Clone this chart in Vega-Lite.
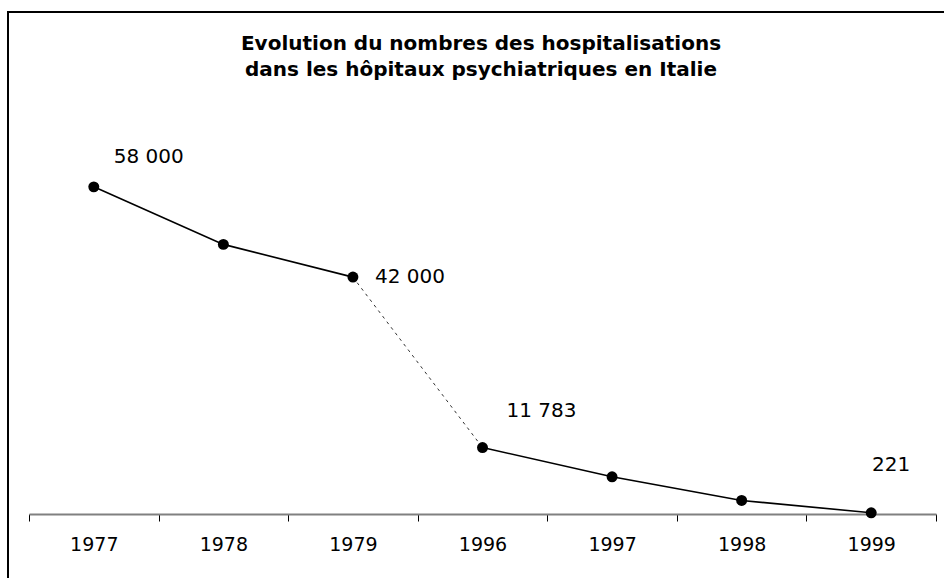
{
  "$schema": "https://vega.github.io/schema/vega-lite/v6.json",
  "width": 940,
  "height": 572,
  "autosize": {"type": "none"},
  "padding": {"left": 8, "top": 12, "right": -4, "bottom": -6},
  "background": "white",
  "config": {"view": {"stroke": "black", "strokeWidth": 2}, "font": "DejaVu Sans"},
  "title": {
    "text": ["Evolution du nombres des hospitalisations", "dans les hôpitaux psychiatriques en Italie"],
    "font": "DejaVu Sans",
    "fontSize": 20,
    "fontWeight": "bold",
    "color": "black",
    "anchor": "middle",
    "baseline": "alphabetic",
    "offset": -84,
    "dx": 3,
    "lineHeight": 26
  },
  "data": {
    "values": [
      {"year": "1977", "value": 58000, "label": "58 000"},
      {"year": "1978", "value": 47800, "label": ""},
      {"year": "1979", "value": 42000, "label": "42 000"},
      {"year": "1996", "value": 11783, "label": "11 783"},
      {"year": "1997", "value": 6600, "label": ""},
      {"year": "1998", "value": 2400, "label": ""},
      {"year": "1999", "value": 221, "label": "221"}
    ]
  },
  "encoding": {
    "x": {
      "field": "year",
      "type": "ordinal",
      "sort": null,
      "scale": {"type": "band", "range": [21, 928], "paddingInner": 0, "paddingOuter": 0},
      "axis": {
        "title": null,
        "orient": "bottom",
        "offset": -70,
        "grid": false,
        "domainColor": "#808080",
        "domainWidth": 2,
        "tickColor": "black",
        "tickSize": 7,
        "tickWidth": 1,
        "tickBand": "extent",
        "tickExtra": true,
        "labelAngle": 0,
        "labelFont": "DejaVu Sans",
        "labelFontSize": 19,
        "labelColor": "black",
        "labelPadding": 14
      }
    },
    "y": {
      "field": "value",
      "type": "quantitative",
      "scale": {"domain": [0, 89000], "range": [502, 0], "nice": false, "zero": true},
      "axis": null
    }
  },
  "layer": [
    {
      "transform": [{"filter": {"field": "year", "oneOf": ["1977", "1978", "1979"]}}],
      "mark": {"type": "line", "color": "black", "strokeWidth": 1.6}
    },
    {
      "transform": [{"filter": {"field": "year", "oneOf": ["1996", "1997", "1998", "1999"]}}],
      "mark": {"type": "line", "color": "black", "strokeWidth": 1.6}
    },
    {
      "transform": [{"filter": {"field": "year", "oneOf": ["1979", "1996"]}}],
      "mark": {"type": "line", "color": "#333333", "strokeWidth": 1, "strokeDash": [3, 4]}
    },
    {
      "mark": {"type": "circle", "color": "black", "size": 120, "opacity": 1}
    },
    {
      "transform": [{"filter": {"field": "year", "equal": "1977"}}],
      "mark": {"type": "text", "align": "center", "baseline": "middle", "fontSize": 20, "font": "DejaVu Sans", "color": "black", "dx": 55, "dy": -30},
      "encoding": {"text": {"field": "label"}}
    },
    {
      "transform": [{"filter": {"field": "year", "equal": "1979"}}],
      "mark": {"type": "text", "align": "center", "baseline": "middle", "fontSize": 20, "font": "DejaVu Sans", "color": "black", "dx": 57, "dy": 0},
      "encoding": {"text": {"field": "label"}}
    },
    {
      "transform": [{"filter": {"field": "year", "equal": "1996"}}],
      "mark": {"type": "text", "align": "center", "baseline": "middle", "fontSize": 20, "font": "DejaVu Sans", "color": "black", "dx": 59, "dy": -37},
      "encoding": {"text": {"field": "label"}}
    },
    {
      "transform": [{"filter": {"field": "year", "equal": "1999"}}],
      "mark": {"type": "text", "align": "center", "baseline": "middle", "fontSize": 20, "font": "DejaVu Sans", "color": "black", "dx": 20, "dy": -48},
      "encoding": {"text": {"field": "label"}}
    }
  ]
}
